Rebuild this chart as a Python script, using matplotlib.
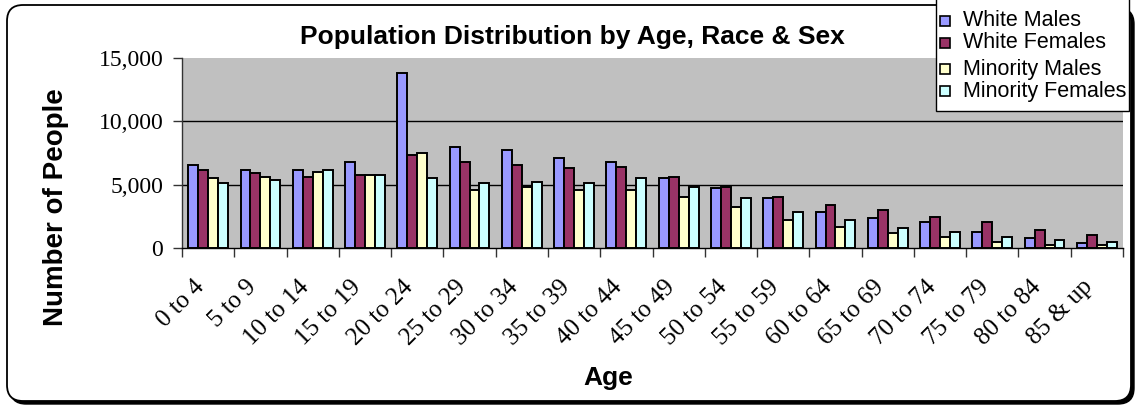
import numpy as np
import matplotlib
matplotlib.use("Agg")
import matplotlib.pyplot as plt
from matplotlib.patches import FancyBboxPatch, Rectangle
from matplotlib.ticker import FuncFormatter
from matplotlib.transforms import ScaledTranslation

# ---- data -------------------------------------------------------------
age_groups = ["0 to 4", "5 to 9", "10 to 14", "15 to 19", "20 to 24", "25 to 29",
              "30 to 34", "35 to 39", "40 to 44", "45 to 49", "50 to 54", "55 to 59",
              "60 to 64", "65 to 69", "70 to 74", "75 to 79", "80 to 84", "85 & up"]
white_males = [6550, 6150, 6150, 6800, 13800, 8000, 7750, 7080, 6800, 5500,
               4700, 3920, 2870, 2340, 2080, 1290, 760, 370]
white_females = [6150, 5900, 5630, 5760, 7340, 6800, 6550, 6290, 6420, 5630,
                 4840, 4050, 3400, 3000, 2470, 2080, 1420, 1030]
minority_males = [5500, 5630, 6030, 5760, 7470, 4580, 4840, 4580, 4580, 4050,
                  3260, 2210, 1680, 1160, 900, 500, 240, 240]
minority_females = [5100, 5370, 6150, 5760, 5500, 5100, 5240, 5100, 5500, 4840,
                    3920, 2870, 2210, 1550, 1290, 900, 630, 500]
series_names = ["White Males", "White Females", "Minority Males", "Minority Females"]
y_ticks = [0, 5000, 10000, 15000]

# ---- style ------------------------------------------------------------
colors = ["#9999FF", "#993366", "#FFFFCC", "#CCFFFF"]
W, H = 1135, 407
SANS = ["Liberation Sans", "DejaVu Sans"]
SERIF = ["Liberation Serif", "DejaVu Serif"]


def fx(px):
    return px / W


def fy(py):
    return 1 - py / H


fig = plt.figure(figsize=(W / 100, H / 100), dpi=100)

# rounded chart frame with a drop shadow
shadow = FancyBboxPatch((7 + 3, H - 401 - 3), 1124, 396,
                        boxstyle="round,pad=0,rounding_size=16",
                        transform=None, facecolor="black", edgecolor="black",
                        linewidth=1, zorder=-2)
frame = FancyBboxPatch((7, H - 401), 1124, 396,
                       boxstyle="round,pad=0,rounding_size=16",
                       transform=None, facecolor="white", edgecolor="black",
                       linewidth=1.3, zorder=-1)
fig.patches.extend([shadow, frame])

ax = fig.add_axes([fx(182), fy(248), fx(1123) - fx(182), (248 - 58) / H])
ax.set_zorder(1)
ax.set_facecolor("#C0C0C0")

x = np.arange(len(age_groups))
bw = 0.19
all_series = [white_males, white_females, minority_males, minority_females]
for i, (vals, c) in enumerate(zip(all_series, colors)):
    ax.bar(x + (i - 1.5) * bw, vals, width=bw, color=c, edgecolor="black",
           linewidth=1.4, zorder=3)

ax.set_xlim(-0.5, len(age_groups) - 0.5)
ax.set_ylim(y_ticks[0], y_ticks[-1])

# horizontal gridlines (top of plot area left plain)
for t in y_ticks[1:-1]:
    ax.axhline(t, color="black", linewidth=1, zorder=1)

ax.set_yticks(y_ticks)
ax.yaxis.set_major_formatter(FuncFormatter(lambda v, p: f"{int(v):,}"))
ax.tick_params(axis="y", direction="out", length=6.5, width=1, color="#333333",
               pad=7, labelsize=17)
for lab in ax.get_yticklabels():
    lab.set_fontfamily(SERIF)

# category boundary ticks + rotated category labels
ax.set_xticks(np.arange(len(age_groups) + 1) - 0.5, minor=True)
ax.set_xticks(x)
ax.set_xticklabels(age_groups, rotation=45, ha="right", va="top",
                   rotation_mode="anchor", fontfamily=SERIF, fontsize=18)
ax.tick_params(axis="x", which="major", length=0, pad=20)
ax.tick_params(axis="x", which="minor", direction="out", length=6.5, width=1,
               color="#333333")
shift = ScaledTranslation(-15 / 100, 0, fig.dpi_scale_trans)
for lab in ax.get_xticklabels():
    lab.set_transform(lab.get_transform() + shift)

for s in ["top", "right"]:
    ax.spines[s].set_visible(False)
ax.spines["left"].set_color("#333333")
ax.spines["bottom"].set_color("black")
ax.spines["left"].set_linewidth(1)
ax.spines["bottom"].set_linewidth(1)

# titles
fig.text(fx(572), fy(37), "Population Distribution by Age, Race & Sex",
         ha="center", va="center", fontsize=19, fontweight="bold", family=SANS)
fig.text(fx(608), fy(378), "Age", ha="center", va="center", fontsize=19,
         fontweight="bold", family=SANS)
fig.text(fx(56), fy(207), "Number of People", ha="center", va="center",
         rotation=90, fontsize=20, fontweight="bold", family=SANS)

# legend box
lx0, ly0, lx1, ly1 = 936, -5, 1129, 111
fig.patches.append(Rectangle((fx(lx0), fy(ly1)), fx(lx1) - fx(lx0), fy(ly0) - fy(ly1),
                             transform=fig.transFigure, facecolor="white",
                             edgecolor="black", linewidth=1, zorder=5))
row_y = [21, 43, 69, 91]
for name, c, ry in zip(series_names, colors, row_y):
    fig.patches.append(Rectangle((fx(940), fy(ry + 5)), 10 / W, 10 / H,
                                 transform=fig.transFigure, facecolor=c,
                                 edgecolor="black", linewidth=1.2, zorder=6))
    fig.text(fx(963), fy(ry), name, ha="left", va="center", fontsize=15.5,
             family=SANS, zorder=7)

fig.savefig("out.png", dpi=100)
